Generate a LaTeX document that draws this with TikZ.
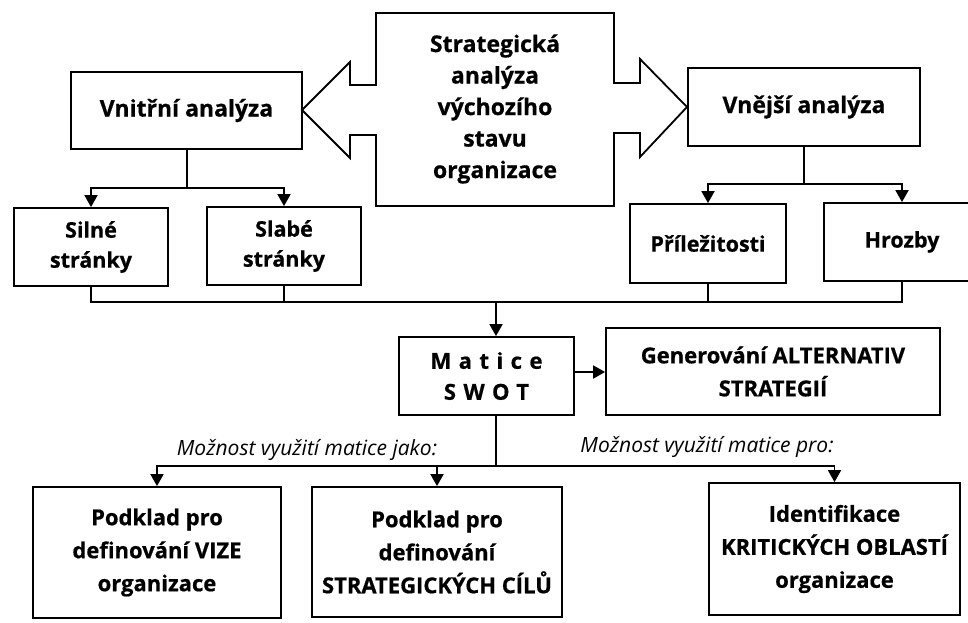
\documentclass[tikz,border=0pt]{standalone}
\usepackage{fontspec}
\setmainfont{Open Sans}[BoldFeatures={FakeBold=0.6}]
\usetikzlibrary{arrows.meta}
\begin{document}
\begin{tikzpicture}[x=1pt,y=-1pt,
  line width=1.8pt,
  box/.style={draw, align=center, inner sep=0pt, font=\bfseries\fontsize{21.5}{30}\selectfont},
  bigbox/.style={box, font=\bfseries\fontsize{22}{33}\selectfont},
  arr/.style={-{Triangle[length=12pt,width=13pt]}},
  lab/.style={font=\itshape\fontsize{21}{24}\selectfont}]
\useasboundingbox (0,0) rectangle (968,623);
\begin{scope}
\clip (0,0) rectangle (968,623);
% central double arrow
\draw (376,13) -- (614,13) -- (614,83) -- (640,83) -- (640,59) -- (687,107) -- (640,157) -- (640,133) -- (614,133) -- (614,206) -- (376,206) -- (376,135) -- (350,135) -- (350,158) -- (302,110) -- (350,62) -- (350,85) -- (376,85) -- cycle;
\node[align=center, font=\bfseries\fontsize{23}{31.5}\selectfont] (strat) at (495,109) {Strategická\\analýza\\výchozího\\stavu\\organizace};
\node[box, minimum width=231pt, minimum height=77pt, font=\bfseries\fontsize{23}{26}\selectfont] (vnitr) at (186.5,110.5) {Vnitřní analýza};
\node[box, minimum width=232pt, minimum height=78pt, font=\bfseries\fontsize{23}{26}\selectfont] (vnejsi) at (804,107) {Vnější analýza};
\node[box, minimum width=154pt, minimum height=78pt] (silne) at (91,247) {Silné\\stránky};
\node[box, minimum width=154pt, minimum height=78pt] (slabe) at (284,246) {Slabé\\stránky};
\node[box, minimum width=156pt, minimum height=79pt] (prilez) at (708,243.5) {Příležitosti};
\node[box, minimum width=156pt, minimum height=78pt] (hrozby) at (902,242) {Hrozby};
\node[box, minimum width=175pt, minimum height=78pt, font=\bfseries\fontsize{22}{31}\selectfont\addfontfeature{LetterSpace=34}] (matice) at (486.5,376) {Matice\\SWOT};
\node[bigbox, minimum width=334pt, minimum height=87pt] (gener) at (773,371.5) {Generování ALTERNATIV\\STRATEGIÍ};
\node[bigbox, minimum width=248pt, minimum height=131pt] (vize) at (157,552.5) {Podklad pro\\definování VIZE\\organizace};
\node[bigbox, minimum width=250pt, minimum height=130pt] (cile) at (437,552) {Podklad pro\\definování\\STRATEGICKÝCH CÍLŮ};
\node[bigbox, minimum width=251pt, minimum height=132pt] (ident) at (834.5,549) {Identifikace\\KRITICKÝCH OBLASTÍ\\organizace};
\node[lab] (labA) at (307,450) {Možnost využití matice jako:};
\node[lab] (labB) at (707,447) {Možnost využití matice pro:};
% connectors
\coordinate (va) at (187,188);
\draw (vnitr.south -| va) -- (va);
\draw[arr] (va) -| (silne.north);
\draw[arr] (va) -| (slabe.north);
\coordinate (ve) at (804,184);
\draw (vnejsi.south -| ve) -- (ve);
\draw[arr] (ve) -| (prilez.north);
\draw[arr] (ve) -| (hrozby.north);
\coordinate (jn) at (496,302);
\draw (silne.south) |- (jn);
\draw (slabe.south) |- (jn);
\draw (prilez.south) |- (jn);
\draw (hrozby.south) |- (jn);
\draw[arr] (jn) -- (jn |- matice.north);
\draw[arr] (matice.east |- 0,372) -- (gener.west |- 0,372);
\coordinate (jm) at (496,466);
\draw (jm |- matice.south) -- (jm);
\draw[arr] (jm) -| (vize.north);
\draw[arr] (jm) -| (cile.north);
\draw[arr] (jm) -| (ident.north);
\end{scope}
\end{tikzpicture}
\end{document}
